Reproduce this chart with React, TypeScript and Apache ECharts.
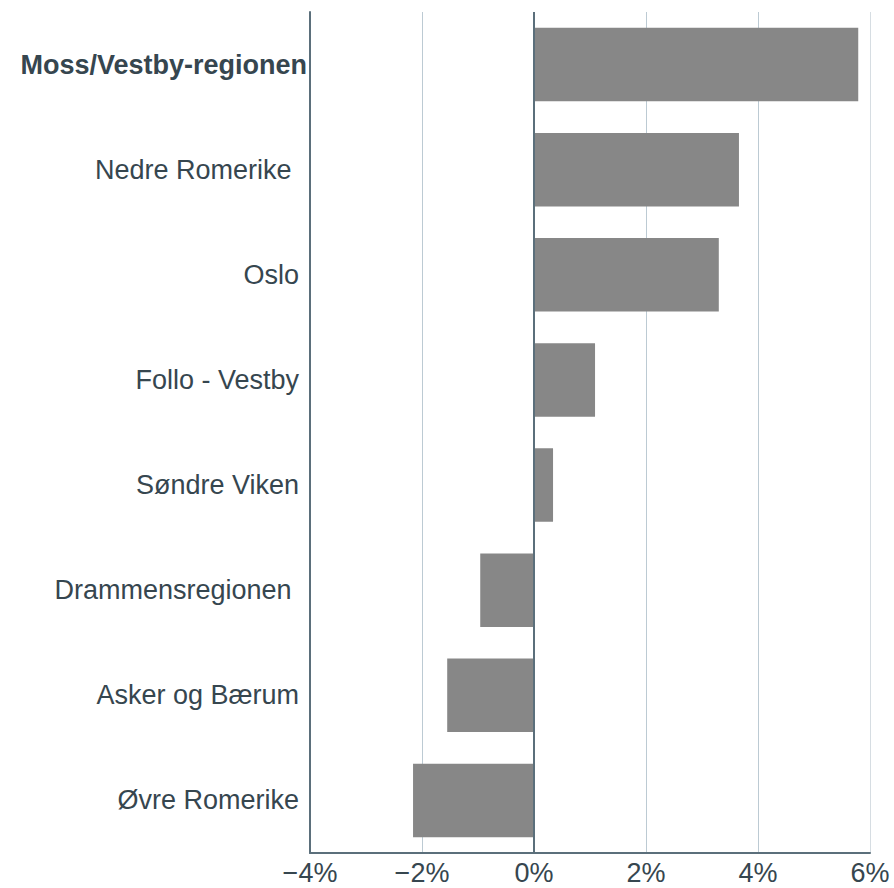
import React, { useEffect, useRef } from "react";
import * as echarts from "echarts";

const categories = [
  "Moss/Vestby-regionen",
  "Nedre Romerike ",
  "Oslo",
  "Follo - Vestby",
  "Søndre Viken",
  "Drammensregionen ",
  "Asker og Bærum",
  "Øvre Romerike",
];
const values = [5.79, 3.66, 3.3, 1.09, 0.34, -0.96, -1.55, -2.16];
const highlighted = "Moss/Vestby-regionen";

export default function App() {
  const ref = useRef<HTMLDivElement>(null);
  useEffect(() => {
    const chart = echarts.init(ref.current!, null, { renderer: "svg" });
    const textColor = "#36464f";
    const axisColor = "#5b6f7b";
    const font = "Liberation Sans, Arial, sans-serif";
    chart.setOption({
      animation: false,
      grid: { left: 310, right: 24, top: 12, bottom: 35, containLabel: false },
      xAxis: {
        type: "value",
        min: -4,
        max: 6,
        interval: 2,
        axisLine: { show: true, lineStyle: { color: axisColor, width: 2 } },
        axisTick: { show: false },
        axisLabel: {
          formatter: (v: number) => (v < 0 ? "\u2212" + Math.abs(v) : String(v)) + "%",
          color: textColor,
          fontSize: 27,
          fontFamily: font,
          margin: 6,
        },
        splitLine: {
          show: true,
          lineStyle: {
            color: ["#bccad3", "#bccad3", axisColor, "#bccad3", "#bccad3", "#d6dde2"],
            width: 1,
          },
        },
      },
      yAxis: {
        type: "category",
        data: categories,
        inverse: true,
        axisLine: { show: true, onZero: false, lineStyle: { color: axisColor, width: 2 } },
        axisTick: { show: false },
        axisLabel: {
          color: textColor,
          fontSize: 27,
          fontFamily: font,
          margin: 3,
          formatter: (v: string) => (v === highlighted ? "{b|" + v + "}" : "{n|" + v + "}"),
          rich: {
            b: { fontWeight: "bold", color: textColor, fontSize: 27, fontFamily: font },
            n: { color: textColor, fontSize: 27, fontFamily: font, padding: [0, 8, 0, 0] },
          },
        },
      },
      series: [
        {
          type: "bar",
          data: values,
          barCategoryGap: "30%",
          itemStyle: { color: "#878787" },
          markLine: {
            silent: true,
            symbol: "none",
            label: { show: false },
            lineStyle: { color: axisColor, width: 2, type: "solid" },
            data: [{ xAxis: 0 }],
          },
        },
      ],
    });
    return () => chart.dispose();
  }, []);
  return <div ref={ref} style={{ width: 894, height: 888, position: "absolute", left: 0, top: 0 }} />;
}
